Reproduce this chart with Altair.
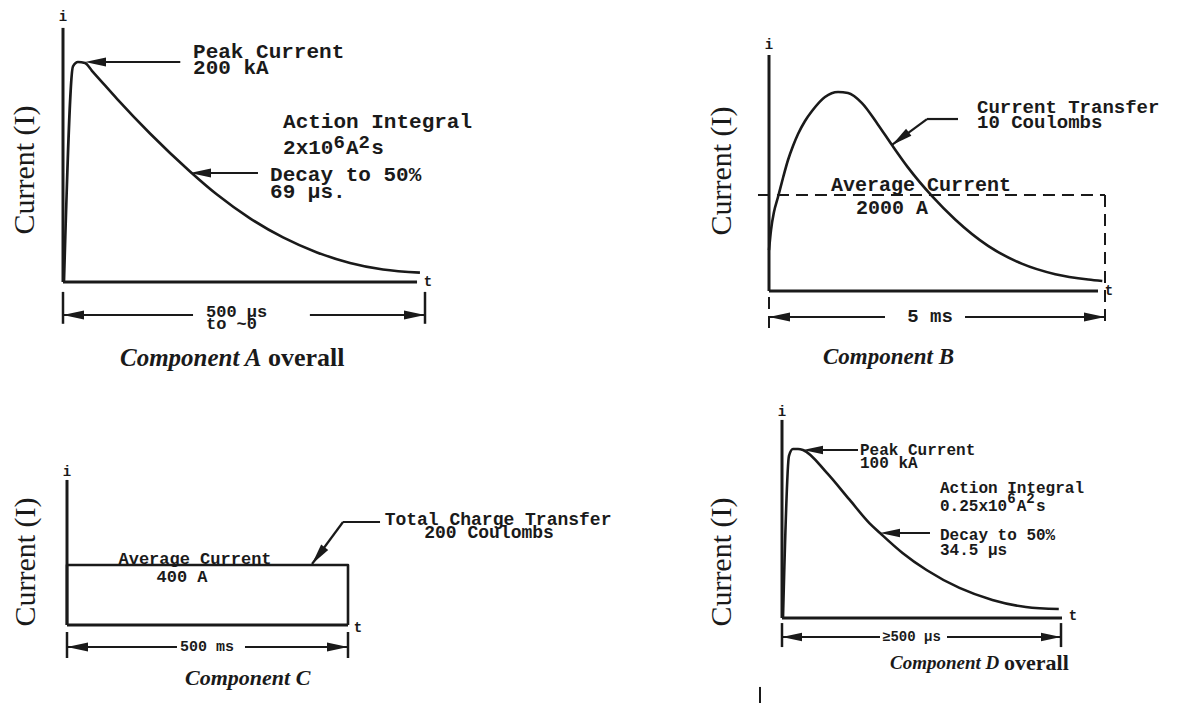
import altair as alt
import pandas as pd

INK = "#1a1a1a"
MONO = "Liberation Mono"
SERIF = "Liberation Serif"
# arrowhead symbol: tip sits on the anchor point, body extends to the right (points left)
HEAD = "M0,0L2,-0.42L2,0.42Z"

# Component A: time (µs) and current (kA) along the drawn stroke
a_time = [1.4, 13.8, 20.7, 30.4, 40, 51.1, 74.6, 120.2, 175.4, 212.7, 258.3, 303.9, 350.8, 396.4, 442, 493]
a_current = [0, 196, 200, 199, 192, 183.8, 166.5, 135, 100.5, 79.5, 57.9, 40.5, 26.9, 17.3, 11.3, 8.5]

# Component B: time (ms) and current (A)
b_time = [0, 0.03, 0.074, 0.134, 0.208, 0.283, 0.357, 0.432, 0.536, 0.64, 0.833, 1.027,
          1.176, 1.38, 1.62, 1.83, 2.07, 2.43, 2.77, 3.26, 3.76, 4.26, 4.75, 4.96]
b_current = [854, 1271, 1646, 1958, 2354, 2729, 3021, 3271, 3542, 3750, 4042, 4146,
             4125, 3920, 3470, 3040, 2570, 1970, 1490, 940, 570, 350, 240, 210]

# Component C: time (ms) and current (A), a flat 400 A block
c_time = [0, 0, 500, 500]
c_current = [0, 400, 400, 0]

# Component D: time (µs) and current (kA)
d_time = [1.8, 12.5, 19.7, 28.7, 37.6, 80, 121, 157, 175.6, 216, 259, 318, 377, 437, 496]
d_current = [0, 96, 100, 100, 99.4, 86, 70, 56, 50.3, 38.5, 28.4, 17.8, 10.7, 6.5, 5.3]


class Panel:
    def __init__(self, xdom, xrng, ydom, yrng):
        self.sx = alt.Scale(domain=xdom, range=xrng, nice=False, zero=False)
        self.sy = alt.Scale(domain=ydom, range=yrng, nice=False, zero=False)
        self.units_per_px = (xdom[1] - xdom[0]) / (xrng[1] - xrng[0])
        self.layers = []

    def shift(self, x0, px):
        """x position px pixels to the right of data position x0."""
        return x0 + px * self.units_per_px

    def xy(self):
        return dict(x=alt.X("x:Q", scale=self.sx, axis=None),
                    y=alt.Y("y:Q", scale=self.sy, axis=None))

    def curve(self, t, i, width=2.6, interp="monotone"):
        df = pd.DataFrame({"x": t, "y": i, "k": list(range(len(t)))})
        self.layers.append(
            alt.Chart(df).mark_line(color=INK, strokeWidth=width, interpolate=interp,
                                    strokeJoin="round")
            .encode(order="k:Q", **self.xy()))

    def rules(self, rows, width, dash=None):
        df = pd.DataFrame(rows, columns=["x", "y", "x2", "y2"])
        kw = dict(color=INK, strokeWidth=width, strokeCap="butt")
        if dash:
            kw["strokeDash"] = dash
        self.layers.append(
            alt.Chart(df).mark_rule(**kw)
            .encode(x2="x2:Q", y2="y2:Q", **self.xy()))

    def heads(self, rows, size=441):
        df = pd.DataFrame(rows, columns=["x", "y", "a"])
        self.layers.append(
            alt.Chart(df).mark_point(shape=HEAD, filled=True, size=size, color=INK,
                                     opacity=1)
            .encode(angle=alt.Angle("a:Q", scale=None), **self.xy()))

    def text(self, rows, font, size, weight="bold", style="normal", align="left", angle=0):
        df = pd.DataFrame(rows, columns=["x", "y", "label"])
        self.layers.append(
            alt.Chart(df).mark_text(font=font, fontSize=size, fontWeight=weight,
                                    fontStyle=style, align=align, baseline="middle",
                                    color=INK, angle=angle)
            .encode(text="label:N", **self.xy()))

    def chart(self):
        return alt.layer(*self.layers)


# ---------------- Component A ----------------
A = Panel([0, 500], [63, 425], [0, 200], [282, 62])
A.curve(a_time, a_current)
A.rules([(0, 0, 0, 231), (0, 0, 489, 0)], 3)
A.rules([(51, 200, 162, 200), (196, 99.1, 269.3, 99.1)], 2.2)
A.rules([(0, -30, 179.6, -30), (341, -30, 500, -30)], 2)
A.rules([(0, -9, 0, -38), (500, -9, 500, -38)], 2.5)
A.heads([(30.4, 200, 0), (175.4, 99.1, 0), (0, -30, 0), (500, -30, 180)])
A.text([(179.6, 209, "Peak Current"), (179.6, 194.5, "200 kA"),
        (303.9, 145.5, "Action Integral"), (303.9, 121.8, "2x10 A s"),
        (286, 97.3, "Decay to 50%"), (286, 81.8, "69 µs.")], MONO, 21)
# exponents of 2x10^6 A^2 s, one monospace cell each
A.text([(A.shift(303.9, 4 * 12.6), 127.5, "6"), (A.shift(303.9, 6 * 12.6), 127.5, "2")], MONO, 19)
A.text([(197.5, -27, "500 µs"), (197.5, -38, "to ~0")], MONO, 17)
A.text([(0, 241, "i"), (504, 0, "t")], MONO, 14, align="center")
A.text([(78.7, -69, "Component A")], SERIF, 25, style="italic")
A.text([(283, -69, "overall")], SERIF, 26)
A.text([(-52.5, 101.8, "Current (I)")], SERIF, 30, weight="normal", align="center", angle=270)

# ---------------- Component B ----------------
B = Panel([0, 5], [769, 1105], [0, 2000], [291, 195])
B.curve(b_time, b_current)
B.rules([(0, 0, 0, 4917), (0, 0, 4.896, 0)], 3)
B.rules([(-0.164, 2000, 5, 2000), (5, 2000, 5, -771), (0, -125, 0, -771)], 2, dash=[12, 7])
B.rules([(2.8125, 3583, 2.351, 3583), (2.351, 3583, 1.83, 3042)], 2.2)
B.rules([(0, -542, 1.726, -542), (2.917, -542, 5, -542)], 2)
B.heads([(1.83, 3042, 323), (0, -542, 0), (5, -542, 180)])
B.text([(3.095, 3833, "Current Transfer"), (3.095, 3521, "10 Coulombs")], MONO, 19)
B.text([(2.262, 2208, "Average Current"), (1.83, 1729, "2000 A")], MONO, 20, align="center")
B.text([(2.396, -521, "5 ms")], MONO, 19, align="center")
B.text([(0, 5125, "i"), (5.06, 0, "t")], MONO, 14, align="center")
B.text([(0.804, -1375, "Component B")], SERIF, 23, style="italic")
B.text([(-0.699, 2500, "Current (I)")], SERIF, 30, weight="normal", align="center", angle=270)

# ---------------- Component C ----------------
C = Panel([0, 500], [67, 348], [0, 400], [625, 565])
C.curve(c_time, c_current, interp="linear")
C.rules([(0, 0, 0, 967), (0, 0, 500, 0)], 3)
C.rules([(557, 686.7, 491.1, 686.7), (491.1, 686.7, 436, 406.7)], 2.2)
C.rules([(0, -146.7, 195.7, -146.7), (316.7, -146.7, 500, -146.7)], 2)
C.rules([(0, -46.7, 0, -220), (500, -46.7, 500, -220)], 2.5)
C.heads([(436, 406.7, 307), (0, -146.7, 0), (500, -146.7, 180)])
C.text([(767, 700, "Total Charge Transfer"), (751, 613, "200 Coulombs")], MONO, 18, align="center")
C.text([(227.8, 440, "Average Current"), (204.6, 320, "400 A")], MONO, 17, align="center")
C.text([(249, -140, "500 ms")], MONO, 15, align="center")
C.text([(0, 1020, "i"), (517.8, -20, "t")], MONO, 14, align="center")
C.text([(210, -353, "Component C")], SERIF, 22, style="italic")
C.text([(-73, 420, "Current (I)")], SERIF, 30, weight="normal", align="center", angle=270)

# ---------------- Component D ----------------
D = Panel([0, 500], [782, 1061], [0, 100], [618, 449])
D.curve(d_time, d_current)
D.rules([(0, 0, 0, 117.2), (0, 0, 501.8, 0)], 3)
D.rules([(59, 99.4, 136.2, 99.4), (202.5, 50.3, 265.2, 50.3)], 2.2)
D.rules([(0, -11.2, 175.6, -11.2), (295.7, -11.2, 500, -11.2)], 2)
D.rules([(0, -3, 0, -17.2), (500, -3, 500, -17.2)], 2.5)
D.rules([(-39.4, -40.8, -39.4, -50.3)], 2)
D.heads([(37.6, 99.4, 0), (175.6, 50.3, 0), (0, -11.2, 0), (500, -11.2, 180)], size=400)
D.text([(139.8, 99.4, "Peak Current"), (139.8, 91.7, "100 kA"),
        (283.1, 76.9, "Action Integral"), (283.1, 66.4, "0.25x10 A s"),
        (283.1, 49.1, "Decay to 50%"), (283.1, 40.2, "34.5 µs")], MONO, 16)
# exponents of 0.25x10^6 A^2 s
D.text([(D.shift(283.1, 7 * 9.6), 70.2, "6"), (D.shift(283.1, 9 * 9.6), 70.2, "2")], MONO, 14)
D.text([(179.2, -11.2, "≥500 µs")], MONO, 14)
D.text([(0, 121.9, "i"), (521.5, 1.2, "t")], MONO, 14, align="center")
D.text([(193.5, -26.6, "Component D")], SERIF, 19, style="italic")
D.text([(398, -26.6, "overall")], SERIF, 22)
D.text([(-107.5, 33.1, "Current (I)")], SERIF, 30, weight="normal", align="center", angle=270)

chart = (
    alt.layer(A.chart(), B.chart(), C.chart(), D.chart())
    .resolve_scale(x="independent", y="independent")
    .properties(width=1177, height=706, padding=0, background="white",
                autosize=alt.AutoSizeParams(type="none"))
    .configure_view(stroke=None)
)

chart.save("out.html", embed_options={"renderer": "svg", "actions": False})
